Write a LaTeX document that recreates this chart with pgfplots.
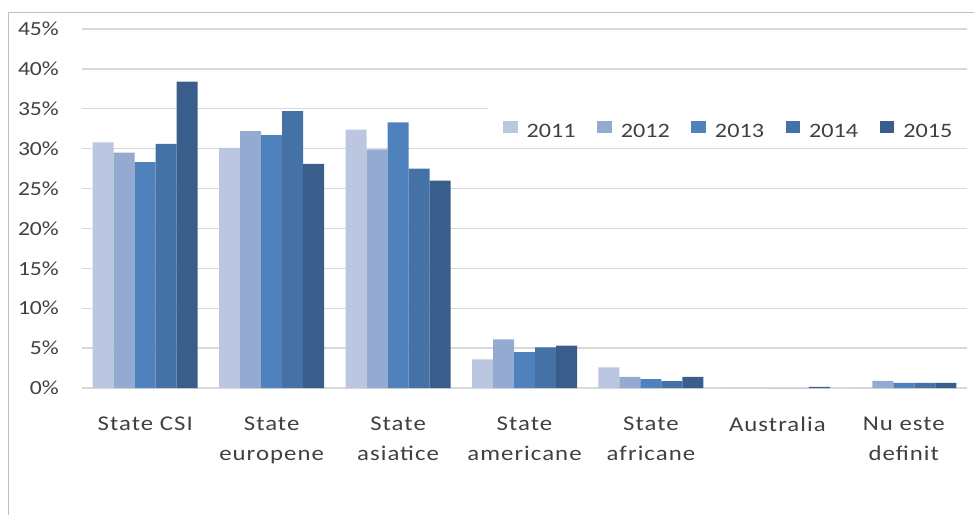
\documentclass[border=0pt]{standalone}
\usepackage{pgfplots}
\usepackage{pgfplotstable}
\pgfplotsset{compat=1.18}
\usepackage{fontspec}
\setmainfont{Carlito}[FakeStretch=1.18]
\newfontfamily\catfont{Carlito}[FakeStretch=1.18, LetterSpace=5]

\definecolor{c2011}{RGB}{187,199,224}
\definecolor{c2012}{RGB}{149,170,208}
\definecolor{c2013}{RGB}{79,129,189}
\definecolor{c2014}{RGB}{68,114,167}
\definecolor{c2015}{RGB}{58,94,140}
\definecolor{txt}{RGB}{64,64,64}
\definecolor{gridc}{RGB}{217,217,217}
\definecolor{framec}{RGB}{191,191,191}

% share of each region, per year (%)
\pgfplotstableread{
cat y2011 y2012 y2013 y2014 y2015
0   30.8  29.5  28.3  30.6  38.4
1   30.1  32.2  31.7  34.7  28.1
2   32.4  29.9  33.3  27.5  26.0
3   3.6   6.1   4.5   5.1   5.3
4   2.6   1.4   1.1   0.85  1.4
5   0     0     0     0     0.15
6   0     0.9   0.65  0.65  0.65
}\datatable

\begin{document}
\begin{tikzpicture}
\path[use as bounding box] (0pt,0pt) rectangle (974pt,-515pt);
\draw[framec, line width=1pt] (8.3pt,-515pt) -- (8.3pt,-12.3pt) -- (974pt,-12.3pt);
\begin{axis}[
  at={(82pt,-388pt)}, anchor=south west,
  scale only axis, width=885pt, height=359pt,
  xmin=-0.5, xmax=6.5, ymin=0, ymax=45,
  ybar=0pt, bar width=21pt,
  axis line style={draw=none},
  major tick length=0pt,
  ytick={0,5,...,45},
  yticklabels={0\%,5\%,10\%,15\%,20\%,25\%,30\%,35\%,40\%,45\%},
  ymajorgrids, major grid style={gridc, line width=1.3pt},
  xtick={0,...,6},
  xticklabels={State CSI, State\\europene, State\\asiatice, State\\americane, State\\africane, Australia, Nu este\\definit},
  xticklabel style={align=center, font=\catfont\fontsize{21}{30}\selectfont, text=txt, anchor=north, inner sep=0pt, yshift=-29pt},
  yticklabel style={font=\fontsize{20}{24}\selectfont, text=txt, anchor=east, inner sep=0pt, xshift=-23pt},
  legend columns=5,
  legend image code/.code={%
    \path[fill=none, draw=none] (0pt,-9pt) rectangle (23.5pt,32pt);
    \fill[#1, draw=none] (0pt,-0.7pt) rectangle (14.7pt,11.3pt);},
  legend style={at={(0.45876,0.745)}, anchor=west, draw=none, fill=white,
    inner xsep=15pt, inner ysep=0pt,
    font=\fontsize{20.5}{24}\selectfont, text=txt,
    nodes={inner sep=0pt},
    /tikz/every even column/.append style={column sep=21.6pt}},
]
\addplot[fill=c2011, draw=none] table[x=cat, y=y2011] {\datatable};
\addplot[fill=c2012, draw=none] table[x=cat, y=y2012] {\datatable};
\addplot[fill=c2013, draw=none] table[x=cat, y=y2013] {\datatable};
\addplot[fill=c2014, draw=none] table[x=cat, y=y2014] {\datatable};
\addplot[fill=c2015, draw=none] table[x=cat, y=y2015] {\datatable};
\legend{2011,2012,2013,2014,2015}
\end{axis}
\end{tikzpicture}
\end{document}
